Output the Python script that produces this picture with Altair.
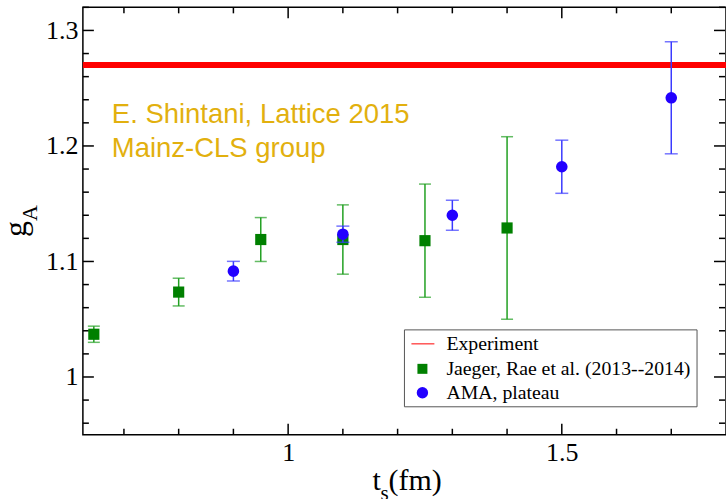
import altair as alt
import pandas as pd

# ---------------- data ----------------
series_names = ["Experiment", "Jaeger, Rae et al. (2013--2014)", "AMA, plateau"]
exp_value = [1.27]

jaeger_x = [0.645, 0.8, 0.95, 1.1, 1.25, 1.4]
jaeger_y = [1.037, 1.0735, 1.119, 1.119, 1.118, 1.129]
jaeger_err = [0.007, 0.012, 0.019, 0.030, 0.049, 0.079]

ama_x = [0.9, 1.1, 1.3, 1.5, 1.7]
ama_y = [1.0916, 1.1236, 1.140, 1.182, 1.2417]
ama_err = [0.0085, 0.007, 0.013, 0.023, 0.0485]

x_major = [1.0, 1.5]
x_minor = [0.7, 0.8, 0.9, 1.1, 1.2, 1.3, 1.4, 1.6, 1.7]
y_major = [1.0, 1.1, 1.2, 1.3]
y_minor = [0.96, 0.98, 1.02, 1.04, 1.06, 1.08, 1.12, 1.14, 1.16, 1.18,
           1.22, 1.24, 1.26, 1.28, 1.32]

annotation_lines = ["E. Shintani, Lattice 2015", "Mainz-CLS group"]

# ---------------- layout ----------------
W, H = 644, 428
SERIF = "Liberation Serif"
SANS = "Liberation Sans"
GOLD = "#e2b00e"
RED = "#ff0000"
GREEN_M = "#008000"
GREEN_B = "#22a022"
BLUE_M = "#2200ff"
BLUE_B = "#3a3aff"

xs = alt.Scale(domain=[0.625, 1.8], nice=False, zero=False)
ys = alt.Scale(domain=[0.95, 1.32], nice=False, zero=False)

xaxis = alt.Axis(values=x_major, format=".1~f", ticks=False, domain=False, grid=False,
                 labelFont=SERIF, labelFontSize=26, labelColor="black", labelPadding=5,
                 labelFlush=False, labelOverlap=False, title=None)
yaxis = alt.Axis(values=y_major, format=".1~f", ticks=False, domain=False, grid=False,
                 labelFont=SERIF, labelFontSize=26, labelColor="black", labelPadding=5,
                 labelFlush=False, labelOverlap=False, title=None)


def X(field):
    return alt.X(field, type="quantitative", scale=xs, axis=xaxis)


def Y(field):
    return alt.Y(field, type="quantitative", scale=ys, axis=yaxis)


jdf = pd.DataFrame({"x": jaeger_x, "y": jaeger_y,
                    "lo": [v - e for v, e in zip(jaeger_y, jaeger_err)],
                    "hi": [v + e for v, e in zip(jaeger_y, jaeger_err)]})
adf = pd.DataFrame({"x": ama_x, "y": ama_y,
                    "lo": [v - e for v, e in zip(ama_y, ama_err)],
                    "hi": [v + e for v, e in zip(ama_y, ama_err)]})
edf = pd.DataFrame({"y": exp_value})
one = pd.DataFrame({"a": [0]})

layers = []

# experiment line
layers.append(alt.Chart(edf).mark_rule(color=RED, strokeWidth=6).encode(y=Y("y")))

# ticks (inward, all four sides)
def xticks(vals, length):
    d = pd.DataFrame({"v": vals})
    b = alt.Chart(d).mark_rule(color="black", strokeWidth=1.5).encode(
        x=X("v"), y=alt.value(H), y2=alt.value(H - length))
    t = alt.Chart(d).mark_rule(color="black", strokeWidth=1.5).encode(
        x=X("v"), y=alt.value(0), y2=alt.value(length))
    return [b, t]


def yticks(vals, length):
    d = pd.DataFrame({"v": vals})
    l = alt.Chart(d).mark_rule(color="black", strokeWidth=1.5).encode(
        y=Y("v"), x=alt.value(0), x2=alt.value(length))
    r = alt.Chart(d).mark_rule(color="black", strokeWidth=1.5).encode(
        y=Y("v"), x=alt.value(W - 1), x2=alt.value(W - 1 - length))
    return [l, r]


layers += xticks(x_major, 11) + xticks(x_minor, 6)
layers += yticks(y_major, 11) + yticks(y_minor, 6)

# annotation
layers.append(alt.Chart(one).mark_text(text=annotation_lines[0], font=SANS, fontSize=27.5,
                                       color=GOLD, align="left", baseline="alphabetic")
              .encode(x=alt.value(29), y=alt.value(116)))
layers.append(alt.Chart(one).mark_text(text=annotation_lines[1], font=SANS, fontSize=27.5,
                                       color=GOLD, align="left", baseline="alphabetic")
              .encode(x=alt.value(29), y=alt.value(150)))

# Jaeger error bars + squares
layers.append(alt.Chart(jdf).mark_rule(color=GREEN_B, strokeWidth=1.5).encode(
    x=X("x"), y=Y("lo"), y2="hi"))
layers.append(alt.Chart(jdf).mark_tick(color=GREEN_B, thickness=1.5, size=12, orient="horizontal").encode(
    x=X("x"), y=Y("lo")))
layers.append(alt.Chart(jdf).mark_tick(color=GREEN_B, thickness=1.5, size=12, orient="horizontal").encode(
    x=X("x"), y=Y("hi")))
layers.append(alt.Chart(jdf).mark_point(shape="square", filled=True, size=125, color=GREEN_M, opacity=1).encode(
    x=X("x"), y=Y("y")))

# AMA error bars + circles
layers.append(alt.Chart(adf).mark_rule(color=BLUE_B, strokeWidth=1.5).encode(
    x=X("x"), y=Y("lo"), y2="hi"))
layers.append(alt.Chart(adf).mark_tick(color=BLUE_B, thickness=1.5, size=13, orient="horizontal").encode(
    x=X("x"), y=Y("lo")))
layers.append(alt.Chart(adf).mark_tick(color=BLUE_B, thickness=1.5, size=13, orient="horizontal").encode(
    x=X("x"), y=Y("hi")))
layers.append(alt.Chart(adf).mark_point(shape="circle", filled=True, size=135, color=BLUE_M, opacity=1).encode(
    x=X("x"), y=Y("y")))

# legend box
LX0, LX1, LY0, LY1 = 322, 615, 323, 400
layers.append(alt.Chart(one).mark_rect(fill="white", stroke="#555555", strokeWidth=1).encode(
    x=alt.value(LX0), x2=alt.value(LX1), y=alt.value(LY0), y2=alt.value(LY1)))
row_y = [337, 362, 386]
layers.append(alt.Chart(one).mark_rule(color=RED, strokeWidth=1).encode(
    x=alt.value(329), x2=alt.value(352), y=alt.value(row_y[0])))
layers.append(alt.Chart(one).mark_point(shape="square", filled=True, size=100, color=GREEN_M, opacity=1).encode(
    x=alt.value(340), y=alt.value(row_y[1])))
layers.append(alt.Chart(one).mark_point(shape="circle", filled=True, size=130, color=BLUE_M, opacity=1).encode(
    x=alt.value(340), y=alt.value(row_y[2])))
for name, yy in zip(series_names, row_y):
    layers.append(alt.Chart(one).mark_text(text=name, font=SERIF, fontSize=19.8, color="black",
                                           align="left", baseline="middle")
                  .encode(x=alt.value(364), y=alt.value(yy)))

# axis titles with subscripts
layers.append(alt.Chart(one).mark_text(text="g", font=SERIF, fontSize=32, color="black", angle=270,
                                       align="center", baseline="alphabetic")
              .encode(x=alt.value(-57), y=alt.value(222)))
layers.append(alt.Chart(one).mark_text(text="A", font=SERIF, fontSize=22, color="black", angle=270,
                                       align="center", baseline="alphabetic")
              .encode(x=alt.value(-46), y=alt.value(206)))
layers.append(alt.Chart(one).mark_text(text="t", font=SERIF, fontSize=30, color="black",
                                       align="left", baseline="alphabetic")
              .encode(x=alt.value(290), y=alt.value(483)))
layers.append(alt.Chart(one).mark_text(text="s", font=SERIF, fontSize=21, color="black",
                                       align="left", baseline="alphabetic")
              .encode(x=alt.value(298), y=alt.value(493)))
layers.append(alt.Chart(one).mark_text(text="(fm)", font=SERIF, fontSize=30, color="black",
                                       align="left", baseline="alphabetic")
              .encode(x=alt.value(306), y=alt.value(483)))

chart = alt.layer(*layers).properties(
    width=W, height=H,
    padding={"left": 83, "top": 7, "right": 0, "bottom": 64},
    autosize=alt.AutoSizeParams(type="none"),
    background="white",
).configure_view(stroke="black", strokeWidth=1.5)

chart.save("out.html", embed_options={"renderer": "svg", "actions": False})
